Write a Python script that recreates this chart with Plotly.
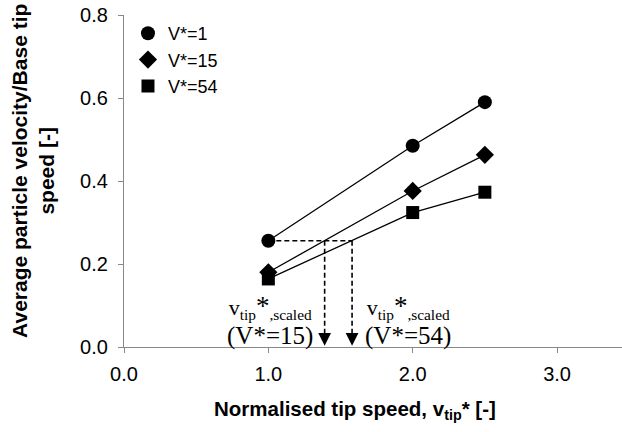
import plotly.graph_objects as go

x_tip = [1.0, 2.0, 2.5]
v1 = [0.256, 0.485, 0.590]
v15 = [0.180, 0.376, 0.463]
v54 = [0.164, 0.324, 0.373]
series_names = ["V*=1", "V*=15", "V*=54"]
series_symbols = ["circle", "diamond", "square"]

ref_level = 0.256
scaled_x = [1.39, 1.58]
label_x = [1.01, 1.97]
label_cases = ["(V*=15)", "(V*=54)"]

fig = go.Figure()

for ys in [v1, v15, v54]:
    fig.add_trace(go.Scatter(x=x_tip, y=ys, mode="lines",
                             line=dict(color="black", width=1.3),
                             showlegend=False, hoverinfo="skip"))

for ys, name, sym in zip([v1, v15, v54], series_names, series_symbols):
    size = 14 if sym != "square" else 13
    fig.add_trace(go.Scatter(x=x_tip, y=ys, mode="markers", name=name,
                             marker=dict(symbol=sym, size=size, color="black")))

dash_style = dict(color="black", width=1.6, dash="5px,3px")
fig.add_trace(go.Scatter(x=[x_tip[0], max(scaled_x)], y=[ref_level, ref_level],
                         mode="lines", line=dash_style,
                         showlegend=False, hoverinfo="skip"))
for sx in scaled_x:
    fig.add_trace(go.Scatter(x=[sx, sx], y=[ref_level, 0.025],
                             mode="lines", line=dash_style,
                             showlegend=False, hoverinfo="skip"))
    fig.add_annotation(x=sx, y=0.003, ax=sx, ay=0.035, xref="x", yref="y",
                       axref="x", ayref="y", showarrow=True, arrowhead=2,
                       arrowsize=1.7, arrowwidth=1.5, arrowcolor="black", text="")

label_top = ("v<sub>tip</sub><span style='font-size:27px'>*</span>"
             "<sub>,scaled</sub>")
for lx, case in zip(label_x, label_cases):
    fig.add_annotation(x=lx, y=0.064, xref="x", yref="y", showarrow=False,
                       text=label_top + "<br><span style='font-size:25px'>" + case + "</span>",
                       yanchor="middle", align="center",
                       font=dict(family="Liberation Serif", size=22, color="black"))

fig.add_annotation(x=0.464, y=-0.19, xref="paper", yref="paper", showarrow=False,
                   xanchor="center", yanchor="middle",
                   text="<b>Normalised tip speed, v<sub>tip</sub>* [-]</b>",
                   font=dict(family="Liberation Sans", size=20.5, color="black"))
fig.add_annotation(x=-0.183, y=0.53, xref="paper", yref="paper", showarrow=False,
                   xanchor="center", yanchor="middle", textangle=-90,
                   text="<b>Average particle velocity/Base tip<br>speed [-]</b>",
                   font=dict(family="Liberation Sans", size=21, color="black"))

fig.update_layout(
    width=622, height=432,
    margin=dict(l=124, r=0, t=15, b=85),
    plot_bgcolor="white", paper_bgcolor="white",
    font=dict(family="Liberation Sans", size=20, color="black"),
    legend=dict(x=0.008, y=1.0, xanchor="left", yanchor="top",
                font=dict(size=18), bgcolor="rgba(0,0,0,0)",
                itemwidth=30, tracegroupgap=0),
    xaxis=dict(range=[0, 3.45], tickvals=[0, 1, 2, 3], tickformat=".1f",
               showline=True, linecolor="#888888", linewidth=1.3,
               ticks="outside", ticklen=5, tickcolor="#888888",
               ticklabelstandoff=4,
               showgrid=False, zeroline=False),
    yaxis=dict(range=[0, 0.8], tickvals=[0, 0.2, 0.4, 0.6, 0.8], tickformat=".1f",
               showline=True, linecolor="#888888", linewidth=1.3,
               ticks="outside", ticklen=5, tickcolor="#888888",
               ticklabelstandoff=6,
               showgrid=False, zeroline=False),
)

fig.write_html("out.html")
